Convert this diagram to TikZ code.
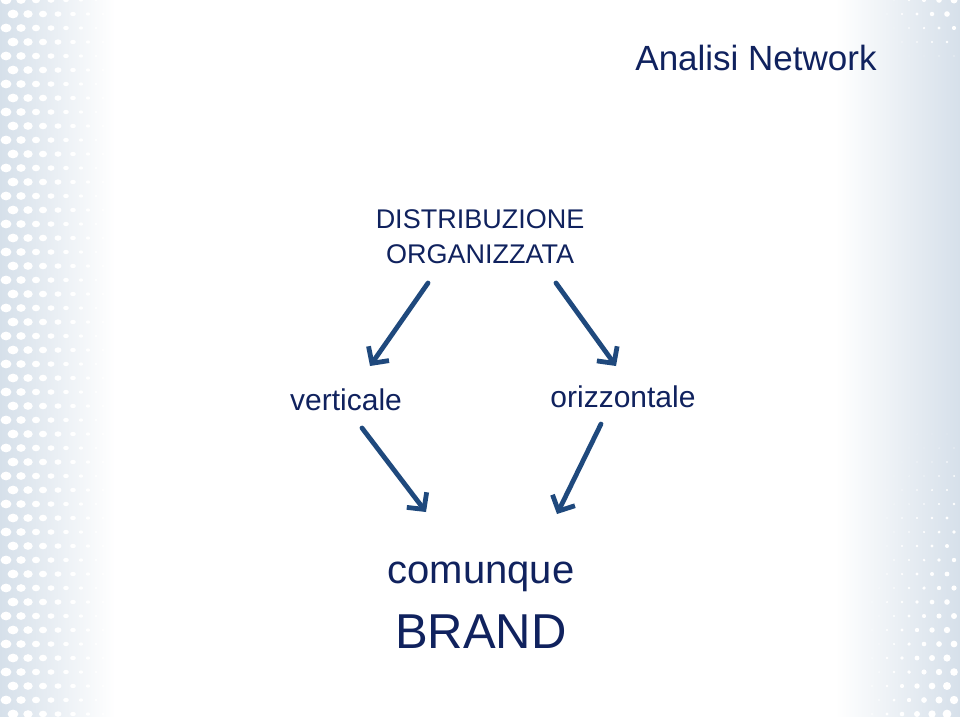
\documentclass[tikz,border=0pt]{standalone}
\usepackage{fontspec}
\setmainfont{Liberation Sans}
\usetikzlibrary{arrows.meta,calc,positioning}
\definecolor{ANtesto}{RGB}{16,34,94}
\definecolor{ANfreccia}{RGB}{31,73,125}
\definecolor{ANsfondo}{RGB}{214,224,234}

\tikzset{
  freccia/.style={ANfreccia,line width=4.8pt,line cap=round,
    -{Straight Barb[length=12pt,width=25pt,line width=4.8pt]}},
  voce/.style={ANtesto,inner sep=0pt,anchor=base},
}

\begin{document}
\begin{tikzpicture}[x=1pt,y=-1pt]
\useasboundingbox (0,0) rectangle (960,716);
% sfondo con puntini ai lati
\shade[left color=ANsfondo,right color=white] (0,0) rectangle (115,716);
\shade[left color=white,right color=ANsfondo] (835,0) rectangle (960,716);
\foreach \i in {0,...,6}
  \foreach \j in {0,...,51}
    \fill[white] ({6+\i*15+mod(\j,2)*7},{\j*14}) ellipse ({5.4-\i*0.65} and {4.4-\i*0.55});
\foreach \i in {0,...,5}
  \foreach \j in {29,...,51}
    \fill[white] ({954-\i*15-mod(\j,2)*7},{\j*14}) circle ({(\j-29)*0.2*(1-\i*0.16)});
\foreach \i in {0,...,4}
  \foreach \j in {0,...,5}
    \fill[white] ({954-\i*15-mod(\j,2)*7},{\j*14}) circle ({(5-\j)*0.7*(1-\i*0.2)});

% testi
\node[voce,font=\fontsize{35}{40}\selectfont] (titolo) at (756,70) {Analisi Network};
\node[voce,align=center,font=\fontsize{27}{35}\selectfont] (distr) at (480,263)
  {DISTRIBUZIONE\\ORGANIZZATA};
\node[voce,font=\fontsize{30}{36}\selectfont] (vert) at (346,410) {verticale};
\node[voce,font=\fontsize{30}{36}\selectfont] (oriz) at (623,407) {orizzontale};
\node[voce,font=\fontsize{40}{48}\selectfont] (comunque) at (481,583) {comunque};
\node[voce,font=\fontsize{49}{58}\selectfont] (brand) at (481,648) {BRAND};

% estremi delle frecce
\coordinate (d-sx) at (428,283);
\coordinate (v-su) at (370,366);
\coordinate (d-dx) at (556,283);
\coordinate (o-su) at (616,366);
\coordinate (v-giu) at (362,428);
\coordinate (c-sx) at (426,512);
\coordinate (o-giu) at (601,424);
\coordinate (c-dx) at (557,514);

\draw[freccia] (d-sx) -- (v-su);
\draw[freccia] (d-dx) -- (o-su);
\draw[freccia] (v-giu) -- (c-sx);
\draw[freccia] (o-giu) -- (c-dx);
\end{tikzpicture}
\end{document}
